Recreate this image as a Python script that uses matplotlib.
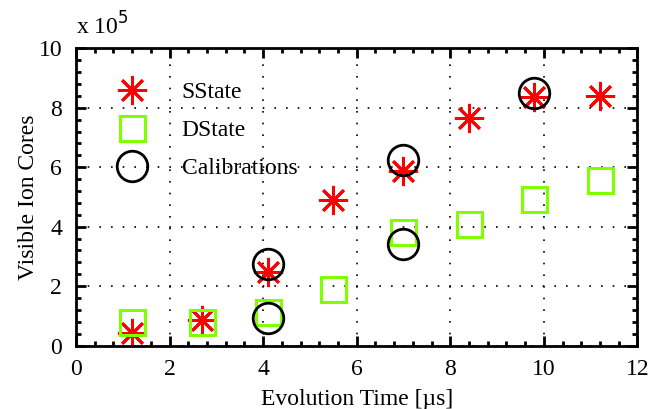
import matplotlib
matplotlib.use("Agg")
import matplotlib.pyplot as plt
from matplotlib.ticker import MultipleLocator
from matplotlib.lines import Line2D

plt.rcParams['font.family'] = ['Liberation Serif', 'DejaVu Serif']
plt.rcParams['font.size'] = 17

# data (values in units of 1e5)
times = [1.2, 2.7, 4.1, 5.5, 7.0, 8.4, 9.8, 11.2]
sstate = [0.42, 0.86, 2.47, 4.9, 5.86, 7.65, 8.35, 8.38]
dstate = [0.8, 0.8, 1.13, 1.9, 3.81, 4.08, 4.94, 5.58]
cal_times = [4.1, 4.1, 7.0, 7.0, 9.8]
cal_vals = [0.92, 2.74, 3.41, 6.25, 8.5]

red = '#ff0000'
green = '#80ff00'

fig = plt.figure(figsize=(6.52, 4.09), dpi=100)
ax = fig.add_axes([0.1166, 0.155, 0.861, 0.727])

star = (8, 2, 0)
ax.plot(times, sstate, linestyle='none', marker=star, markersize=21,
        markeredgecolor=red, markeredgewidth=2, color=red)
ax.plot(times, dstate, linestyle='none', marker='s', markersize=18,
        markeredgecolor=green, markerfacecolor='none', markeredgewidth=2.2)
ax.plot(cal_times, cal_vals, linestyle='none', marker='o', markersize=22,
        markeredgecolor='black', markerfacecolor='none', markeredgewidth=2)

ax.set_xlim(0, 12)
ax.set_ylim(0, 10)
ax.xaxis.set_major_locator(MultipleLocator(2))
ax.xaxis.set_minor_locator(MultipleLocator(0.4))
ax.yaxis.set_major_locator(MultipleLocator(2))
ax.yaxis.set_minor_locator(MultipleLocator(0.4))

ax.tick_params(which='both', direction='in', top=True, right=True,
               width=2, colors='black')
ax.tick_params(which='major', length=7)
ax.tick_params(axis='x', which='major', pad=10)
ax.tick_params(axis='y', which='major', pad=10)
ax.tick_params(which='minor', length=3.5)
for s in ax.spines.values():
    s.set_linewidth(2)

ax.grid(True, which='major', linestyle=(0, (1, 6)), color='black', linewidth=1.2)

ax.set_xlabel('Evolution Time [µs]', labelpad=6)
ax.set_ylabel('Visible Ion Cores', labelpad=0)
ax.text(0.0, 1.03, 'x 10$^5$', transform=ax.transAxes, ha='left', va='bottom')

handles = [
    Line2D([], [], linestyle='none', marker=star, markersize=21,
           markeredgecolor=red, markeredgewidth=2),
    Line2D([], [], linestyle='none', marker='s', markersize=18,
           markeredgecolor=green, markerfacecolor='none', markeredgewidth=2.2),
    Line2D([], [], linestyle='none', marker='o', markersize=22,
           markeredgecolor='black', markerfacecolor='none', markeredgewidth=2),
]
ax.legend(handles, ['SState', 'DState', 'Calibrations'], loc='upper left',
          bbox_to_anchor=(0.02, 0.96), frameon=False, labelspacing=0.7,
          handletextpad=1.1, handlelength=2.0)

fig.savefig('out.png', dpi=100)
